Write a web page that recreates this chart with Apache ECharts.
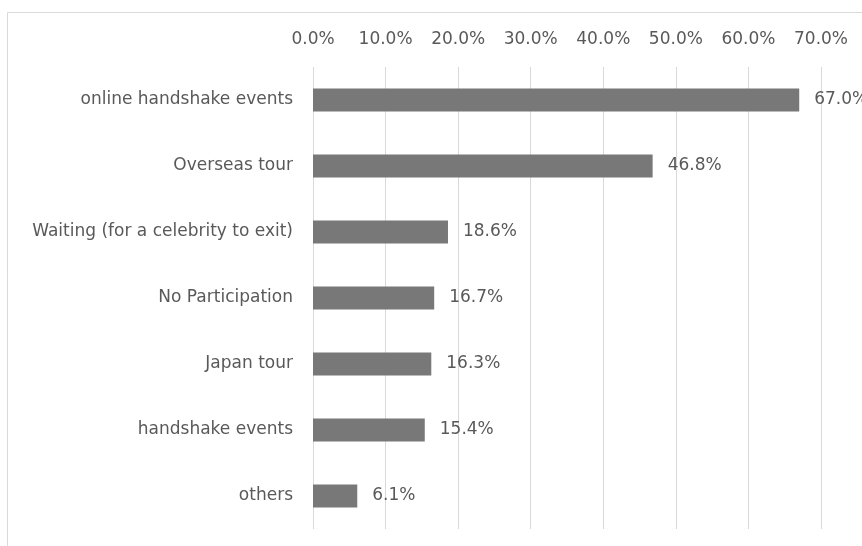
<!DOCTYPE html>
<html>
<head>
<meta charset="utf-8">
<script src="https://cdn.jsdelivr.net/npm/echarts@6/dist/echarts.min.js"></script>
<style>
  html, body { margin: 0; padding: 0; background: #ffffff; }
  #chart { width: 862px; height: 546px; }
</style>
</head>
<body>
<div id="chart"></div>
<script>
// Event types, listed top to bottom
const categories = [
  'online handshake events',
  'Overseas tour',
  'Waiting (for a celebrity to exit)',
  'No Participation',
  'Japan tour',
  'handshake events',
  'others'
];
// Share of respondents, in percent
const shares = [67.0, 46.8, 18.6, 16.7, 16.3, 15.4, 6.1];
// Value axis range and step, in percent
const axisMin = 0;
const axisMax = 70;
const axisStep = 10;

const textColor = '#595959';
const fontFamily = '"DejaVu Sans", sans-serif';
const fontSize = 17;
const pct = v => Number(v).toFixed(1) + '%';

const chart = echarts.init(document.getElementById('chart'), null, { renderer: 'canvas' });
chart.setOption({
  backgroundColor: '#ffffff',
  animation: false,
  graphic: [{
    type: 'rect',
    shape: { x: 7.5, y: 12.5, width: 900, height: 600 },
    style: { fill: 'none', stroke: '#d9d9d9', lineWidth: 1 },
    silent: true,
    z: -1
  }],
  grid: { left: 313, right: 41, top: 67, bottom: 17, containLabel: false },
  xAxis: {
    type: 'value',
    position: 'top',
    min: axisMin,
    max: axisMax,
    interval: axisStep,
    axisLine: { show: false },
    axisTick: { show: false },
    splitLine: { show: true, lineStyle: { color: '#d9d9d9', width: 1 } },
    axisLabel: {
      color: textColor,
      fontFamily: fontFamily,
      fontSize: fontSize,
      margin: 19,
      formatter: v => pct(v)
    }
  },
  yAxis: {
    type: 'category',
    inverse: true,
    data: categories,
    axisLine: { show: false },
    axisTick: { show: false },
    splitLine: { show: false },
    axisLabel: {
      color: textColor,
      fontFamily: fontFamily,
      fontSize: fontSize,
      margin: 20
    }
  },
  series: [{
    type: 'bar',
    data: shares,
    barWidth: 23,
    itemStyle: { color: '#787878' },
    label: {
      show: true,
      position: 'right',
      distance: 15,
      color: textColor,
      fontFamily: fontFamily,
      fontSize: fontSize,
      formatter: p => pct(p.value)
    }
  }]
});
</script>
</body>
</html>
